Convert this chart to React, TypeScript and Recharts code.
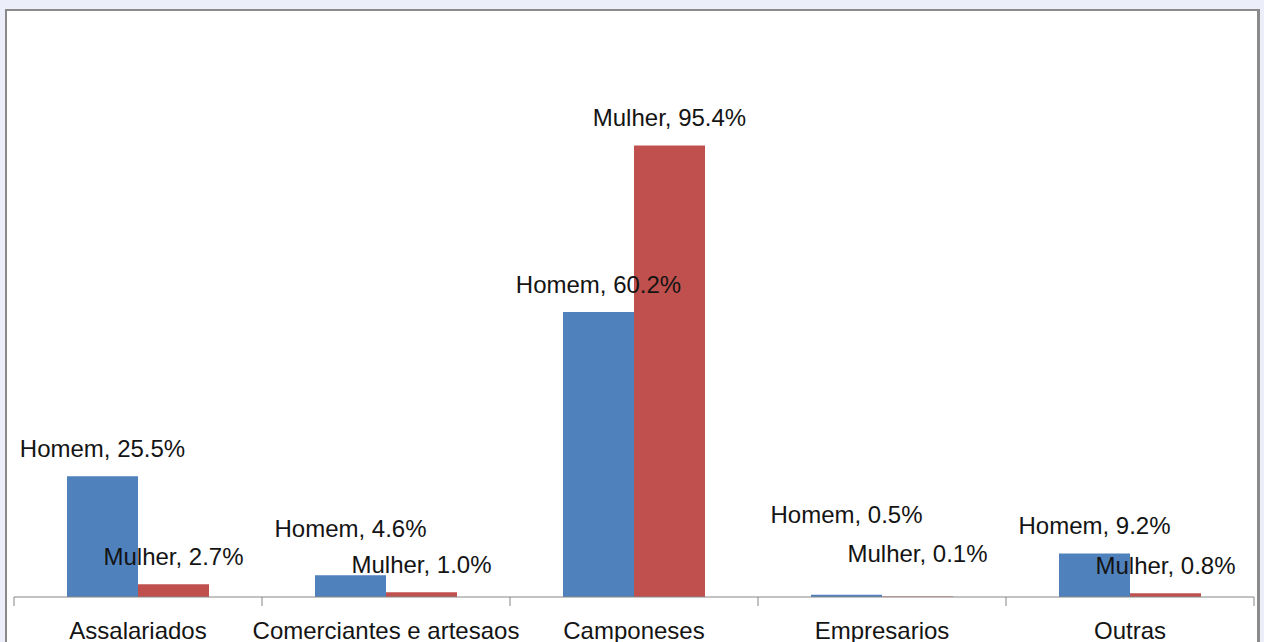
import React from 'react';
import { BarChart, Bar, XAxis, YAxis, LabelList } from 'recharts';

// Occupation shares by sex (%)
const CATEGORIES = ['Assalariados', 'Comerciantes e artesaos', 'Camponeses', 'Empresarios', 'Outras'];
const HOMEM = [25.5, 4.6, 60.2, 0.5, 9.2];
const MULHER = [2.7, 1.0, 95.4, 0.1, 0.8];
const SERIES_NAMES = ['Homem', 'Mulher'];
const Y_MAX = 120;

// extra lift (px) for labels that would otherwise collide
const HOMEM_LABEL_LIFT = [0, 19, 0, 53, 0];
const MULHER_LABEL_LIFT = [0, 0, 0, 16, 0];

const data = CATEGORIES.map((c, i) => ({ category: c, homem: HOMEM[i], mulher: MULHER[i] }));

const W = 1264;
const H = 642;
const MARGIN = { top: 29, right: 10, bottom: 0, left: 14 };
const AXIS_H = 45;
const HALF_BAND = (W - MARGIN.left - MARGIN.right) / CATEGORIES.length / 2;

const FONT = '"Liberation Sans", Arial, sans-serif';
const TEXT = '#141414';
const AXIS = '#868686';

const CategoryTick = (props: any) => {
  const { x, y, payload, index } = props;
  const top = y - 8; // axis line y
  const isLast = index === CATEGORIES.length - 1;
  return (
    <g>
      <line x1={x - HALF_BAND} y1={top} x2={x - HALF_BAND} y2={top + 9} stroke={AXIS} strokeWidth={1} />
      {isLast && (
        <line x1={x + HALF_BAND} y1={top} x2={x + HALF_BAND} y2={top + 9} stroke={AXIS} strokeWidth={1} />
      )}
      <text x={x} y={top + 42} textAnchor="middle" fontFamily={FONT} fontSize={24} fill={TEXT}>
        {payload.value}
      </text>
    </g>
  );
};

const makeLabel = (name: string, lift: number[]) => (props: any) => {
  const { x, y, width, value, index } = props;
  return (
    <text
      x={x + width / 2}
      y={y - 19 - (lift[index] || 0)}
      textAnchor="middle"
      fontFamily={FONT}
      fontSize={24}
      fill={TEXT}
    >
      {`${name}, ${Number(value).toFixed(1)}%`}
    </text>
  );
};

export default function App() {
  return (
    <div
      style={{
        position: 'fixed',
        left: 0,
        top: 0,
        width: W,
        height: H,
        overflow: 'hidden',
        background: '#eceef9',
      }}
    >
      <div
        style={{
          position: 'absolute',
          left: 5,
          top: 9,
          width: 1250,
          height: 700,
          background: '#ffffff',
          borderTop: '2px solid #8a8a8a',
          borderLeft: '2px solid #8a8a8a',
          borderRight: '3px solid #8a8a8a',
        }}
      />
      <div style={{ position: 'absolute', left: 0, top: 0 }}>
        <BarChart width={W} height={H} data={data} margin={MARGIN} barGap={0} barSize={71}>
          <YAxis hide domain={[0, Y_MAX]} type="number" />
          <XAxis
            dataKey="category"
            height={AXIS_H}
            axisLine={{ stroke: AXIS, strokeWidth: 1 }}
            tickLine={false}
            interval={0}
            tick={<CategoryTick />}
          />
          <Bar dataKey="homem" name={SERIES_NAMES[0]} fill="#4f81bd" isAnimationActive={false}>
            <LabelList dataKey="homem" content={makeLabel(SERIES_NAMES[0], HOMEM_LABEL_LIFT)} />
          </Bar>
          <Bar dataKey="mulher" name={SERIES_NAMES[1]} fill="#c0504d" isAnimationActive={false}>
            <LabelList dataKey="mulher" content={makeLabel(SERIES_NAMES[1], MULHER_LABEL_LIFT)} />
          </Bar>
        </BarChart>
      </div>
    </div>
  );
}
